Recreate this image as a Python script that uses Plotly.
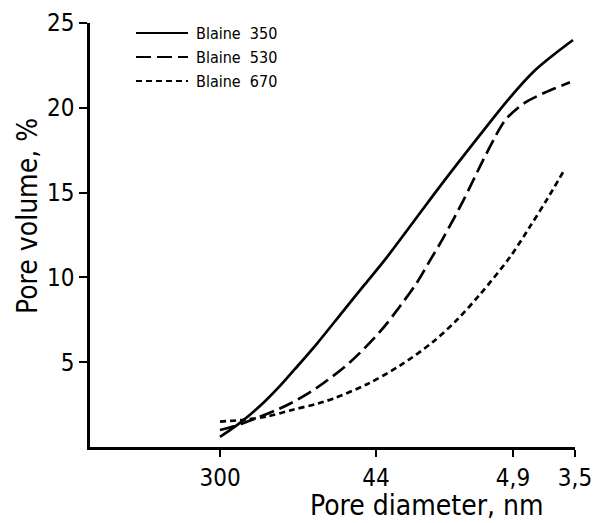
import plotly.graph_objects as go

# x is a position along the (non-uniform) diameter axis; tick labels give diameters in nm
tick_pos = [130, 286, 423, 485]
tick_text = ["300", "44", "4,9", "3,5"]
y_ticks = [5, 10, 15, 20, 25]

x_350 = [130, 145, 160, 175, 190, 205, 227, 253, 275, 297, 325, 353, 390, 417, 443, 463, 483]
y_350 = [0.6, 1.2, 1.9, 2.7, 3.6, 4.6, 6.1, 8.0, 9.6, 11.2, 13.4, 15.6, 18.4, 20.4, 22.1, 23.1, 24.0]

x_530 = [130, 153, 187, 203, 227, 260, 290, 310, 327, 340, 353, 373, 393, 410, 417, 435, 455, 480]
y_530 = [1.0, 1.4, 2.2, 2.65, 3.5, 5.0, 6.8, 8.3, 9.7, 11.0, 12.3, 14.5, 16.9, 18.8, 19.4, 20.3, 20.9, 21.5]

x_670 = [130, 153, 177, 203, 227, 243, 277, 310, 343, 367, 390, 420, 440, 457, 473]
y_670 = [1.5, 1.6, 1.8, 2.2, 2.55, 2.85, 3.7, 4.8, 6.2, 7.5, 9.0, 11.2, 13.0, 14.6, 16.2]

names = ["Blaine  350", "Blaine  530", "Blaine  670"]
dashes = ["solid", "15px,6px", "6px,4px"]

W, H = 594, 523
L, R, T, B = 90, 19, 23, 76
pw, ph = W - L - R, H - T - B

def px(xp):
    return (xp - L) / pw

def py(yp):
    return (H - B - yp) / ph

FONT = "DejaVu Sans Condensed, DejaVu Sans, sans-serif"

fig = go.Figure()
for xs, ys, d in zip([x_350, x_530, x_670], [y_350, y_530, y_670], dashes):
    fig.add_trace(go.Scatter(x=xs, y=ys, mode="lines",
                             line=dict(color="black", width=2.7, dash=d, shape="spline", smoothing=0.9),
                             showlegend=False, hoverinfo="skip", cliponaxis=False))

# manual legend
leg_rows = [33, 57, 81]
for nm, d, yy in zip(names, dashes, leg_rows):
    fig.add_shape(type="line", xref="paper", yref="paper",
                  x0=px(136), x1=px(188), y0=py(yy), y1=py(yy),
                  line=dict(color="black", width=2, dash=d))
    fig.add_annotation(text=nm, xref="paper", yref="paper", x=px(195), y=py(yy),
                       xanchor="left", yanchor="middle", showarrow=False, borderpad=0,
                       font=dict(family=FONT, size=16, color="black"))

fig.add_annotation(text="Pore diameter, nm", xref="paper", yref="paper",
                   x=px(427), y=py(523), xanchor="center", yanchor="bottom",
                   showarrow=False, borderpad=0,
                   font=dict(family=FONT, size=28, color="black"))
fig.add_annotation(text="Pore volume, %", xref="paper", yref="paper",
                   x=px(27), y=py(216), xanchor="center", yanchor="middle",
                   textangle=-90, showarrow=False, borderpad=0,
                   font=dict(family=FONT, size=28, color="black"))

fig.update_xaxes(range=[0, 485], tickvals=tick_pos, ticktext=tick_text,
                 showline=True, linecolor="black", linewidth=2.5,
                 ticks="outside", ticklen=7, tickwidth=2, tickcolor="black",
                 showgrid=False, zeroline=False, automargin=False,
                 tickfont=dict(family=FONT, size=24, color="black"))
fig.update_yaxes(range=[0, 25], tickvals=y_ticks,
                 showline=True, linecolor="black", linewidth=2.5,
                 ticks="outside", ticklen=8, tickwidth=2, tickcolor="black",
                 showgrid=False, zeroline=False, automargin=False,
                 tickfont=dict(family=FONT, size=24, color="black"))

fig.update_layout(width=W, height=H, margin=dict(l=L, r=R, t=T, b=B, autoexpand=False),
                  plot_bgcolor="white", paper_bgcolor="white", showlegend=False)

fig.write_html("out.html", config={"displayModeBar": False},
               post_script="document.body.style.margin='0px';document.body.style.overflow='hidden';")
